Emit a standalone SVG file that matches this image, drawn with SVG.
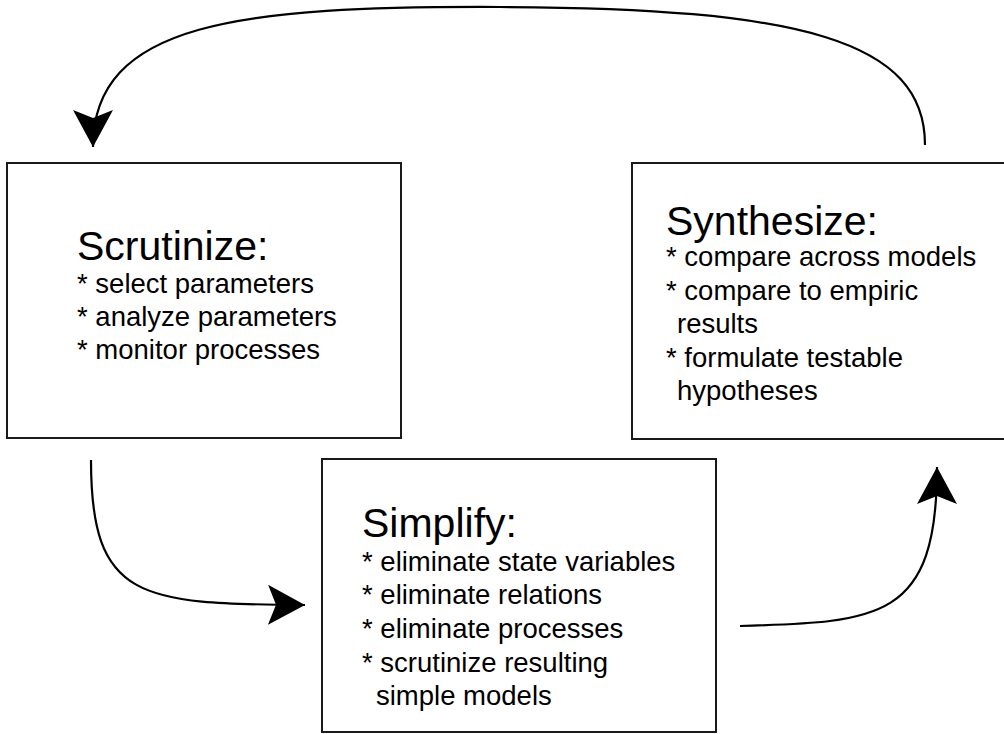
<svg xmlns="http://www.w3.org/2000/svg" width="1004" height="734" viewBox="0 0 1004 734">
  <style>
    .box { fill: #ffffff; stroke: #1a1a1a; stroke-width: 2; }
    .title { font-family: "Liberation Sans", Arial, sans-serif; font-size: 41px; fill: #000000; }
    .item { font-family: "Liberation Sans", Arial, sans-serif; font-size: 27.5px; fill: #000000; }
    .link { fill: none; stroke: #000000; stroke-width: 2.2; }
  </style>
  <defs>
    <marker id="arrow" markerUnits="userSpaceOnUse" viewBox="0 0 37 40" markerWidth="37" markerHeight="40" refX="37" refY="20" orient="auto">
      <path d="M0,0 L37,20 L0,40 L8,20 Z" fill="#000000"/>
    </marker>
  </defs>
  <rect width="1004" height="734" fill="#ffffff"/>

  <g id="connectors">
    <!-- Synthesize back to Scrutinize, over the top -->
    <path class="link" d="M925,145 C925,40 800,8 500,7 C240,6 93,22 93,147" marker-end="url(#arrow)"/>
    <!-- Scrutinize to Simplify -->
    <path class="link" d="M91,460 C91,600 140,604 305,605" marker-end="url(#arrow)"/>
    <!-- Simplify to Synthesize -->
    <path class="link" d="M740,626 C880,622 937,620 937,467" marker-end="url(#arrow)"/>
  </g>

  <g id="scrutinize">
    <rect class="box" x="7" y="163" width="394" height="275"/>
    <text class="title" x="77" y="260">Scrutinize:</text>
    <text class="item" x="77" y="293">* select parameters</text>
    <text class="item" x="77" y="326">* analyze parameters</text>
    <text class="item" x="77" y="359">* monitor processes</text>
  </g>

  <g id="synthesize">
    <rect class="box" x="632" y="163" width="380" height="276"/>
    <text class="title" x="666" y="235">Synthesize:</text>
    <text class="item" x="666" y="266">* compare across models</text>
    <text class="item" x="666" y="300">* compare to empiric</text>
    <text class="item" x="677" y="333">results</text>
    <text class="item" x="666" y="367">* formulate testable</text>
    <text class="item" x="677" y="400">hypotheses</text>
  </g>

  <g id="simplify">
    <rect class="box" x="322" y="459" width="394" height="273"/>
    <text class="title" x="362" y="537">Simplify:</text>
    <text class="item" x="362" y="571">* eliminate state variables</text>
    <text class="item" x="362" y="604">* eliminate relations</text>
    <text class="item" x="362" y="638">* eliminate processes</text>
    <text class="item" x="362" y="672">* scrutinize resulting</text>
    <text class="item" x="376" y="705">simple models</text>
  </g>
</svg>
